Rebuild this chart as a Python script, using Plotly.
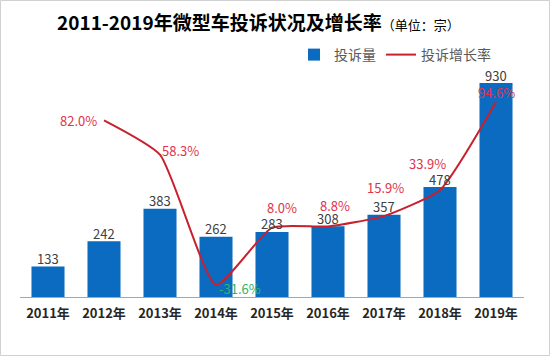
import plotly.graph_objects as go

years = ["2011年", "2012年", "2013年", "2014年", "2015年", "2016年", "2017年", "2018年", "2019年"]
complaints = [133, 242, 383, 262, 283, 308, 357, 478, 930]
growth_years = ["2012年", "2013年", "2014年", "2015年", "2016年", "2017年", "2018年", "2019年"]
growth = [82.0, 58.3, -31.6, 8.0, 8.8, 15.9, 33.9, 94.6]

W, H = 550, 356
ML, MR, MT, MB = 20, 26, 60, 59

fig = go.Figure()
fig.add_trace(go.Bar(
    x=years, y=complaints, name="投诉量",
    marker=dict(color="#0B6BC0", line=dict(width=0)),
    width=0.59,
))
fig.add_trace(go.Scatter(
    x=growth_years, y=growth, name="投诉增长率", yaxis="y2",
    mode="lines", line=dict(color="#C8202C", width=2, shape="spline", smoothing=0.5),
    cliponaxis=False,
))

# bar value labels
for yr, v in zip(years, complaints):
    fig.add_annotation(x=yr, y=v, text=str(v), showarrow=False, yanchor="middle",
                       yshift=8, font=dict(size=13, color="#404040", family="Noto Sans CJK SC"))

# growth labels (offsets in pixels)
shifts = [(-26, 0), (20, 4), (24, -4), (10, 20), (7, 21), (1, 29), (-13, 27), (0, 10)]
for (yr, g), (dx, dy) in zip(zip(growth_years, growth), shifts):
    color = "#2DB56A" if g < 0 else "#E0324A"
    fig.add_annotation(x=yr, y=g, yref="y2", text=f"{g:.1f}%", showarrow=False,
                       xshift=dx, yshift=dy, yanchor="middle",
                       font=dict(size=13, color=color, family="Noto Sans CJK SC"))

pw, ph = W - ML - MR, H - MT - MB

# title
fig.add_annotation(xref="paper", yref="paper",
                   x=(258 - ML) / pw, y=1 + (MT - 22) / ph, yanchor="middle",
                   text="<b>2011-2019年微型车投诉状况及增长率</b><span style='font-size:13px'>（单位：宗）</span>",
                   showarrow=False, font=dict(size=19, color="#000000", family="Noto Sans CJK SC"))

fig.add_shape(type="rect", xref="paper", yref="paper",
              x0=(0.5 - ML) / pw, x1=(W - 0.5 - ML) / pw,
              y0=-(MB - 0.5) / ph, y1=1 + (MT - 0.5) / ph,
              line=dict(color="#D0D0D0", width=1), layer="below")

fig.update_layout(
    width=W, height=H,
    margin=dict(l=ML, r=MR, t=MT, b=MB, autoexpand=False),
    paper_bgcolor="white", plot_bgcolor="white",
    font=dict(family="Noto Sans CJK SC", color="#404040"),
    showlegend=True,
    hovermode=False,
    legend=dict(orientation="h", x=(496 - ML) / pw, xanchor="right",
                y=1 + (MT - 55) / ph, yanchor="middle",
                font=dict(size=14, color="#595959"), bgcolor="rgba(0,0,0,0)",
                itemwidth=30, traceorder="normal"),
    xaxis=dict(range=[-0.5, 8.5], showgrid=False, showline=True, linecolor="#A6A6A6",
               linewidth=1, ticks="", tickfont=dict(size=13, color="#262626", family="Noto Sans CJK SC"),
               ticklabelstandoff=4, automargin=False),
    yaxis=dict(range=[0, 1030], visible=False, showgrid=False, automargin=False),
    yaxis2=dict(range=[-39.9, 123.6], overlaying="y", side="right", visible=False,
                showgrid=False, automargin=False),
    bargap=0.4,
)
fig.update_xaxes(tickprefix="<b>", ticksuffix="</b>")

fig.write_html("out.html", config={"displayModeBar": False},
               post_script="document.body.style.margin='0';")
